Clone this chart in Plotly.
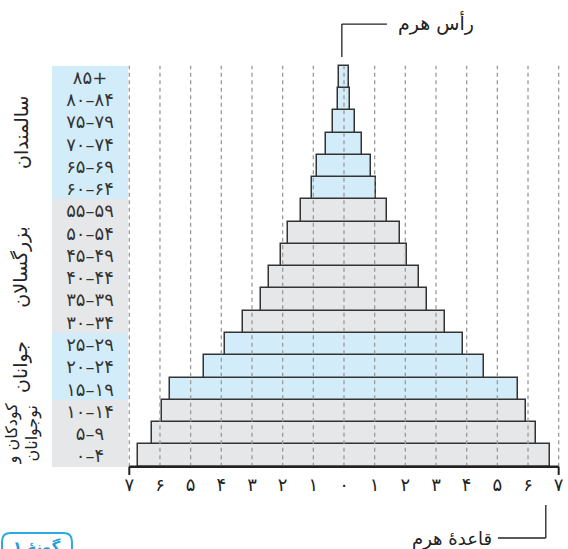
import plotly.graph_objects as go

# ---- data (bottom row first) ----
age_labels = ["۰–۴", "۵–۹", "۱۰–۱۴", "۱۵–۱۹", "۲۰–۲۴", "۲۵–۲۹", "۳۰–۳۴", "۳۵–۳۹",
              "۴۰–۴۴", "۴۵–۴۹", "۵۰–۵۴", "۵۵–۵۹", "۶۰–۶۴", "۶۵–۶۹", "۷۰–۷۴",
              "۷۵–۷۹", "۸۰–۸۴", "۸۵+"]
half_widths = [6.72, 6.26, 5.92, 5.66, 4.56, 3.87, 3.28, 2.70, 2.46, 2.06,
               1.82, 1.41, 1.03, 0.88, 0.60, 0.36, 0.21, 0.15]
row_group = ["child", "child", "child", "young", "young", "young",
             "adult", "adult", "adult", "adult", "adult", "adult",
             "old", "old", "old", "old", "old", "old"]
tick_values = list(range(-7, 8))
tick_labels = ["۷", "۶", "۵", "۴", "۳", "۲", "۱", "۰", "۱", "۲", "۳", "۴", "۵", "۶", "۷"]
group_names = ["کودکان و<br>نوجوانان", "جوانان", "بزرگسالان", "سالمندان"]
group_rows = [(0, 2), (3, 5), (6, 11), (12, 17)]
group_sizes = [16, 19, 19, 19]
group_x = [-10.5, -10.55, -10.55, -10.55]

BLUE = "#d2edf9"
GRAY = "#e6e7e8"
FONT = "DejaVu Sans"
color_of = {"child": GRAY, "young": BLUE, "adult": GRAY, "old": BLUE}
colors = [color_of[g] for g in row_group]
rows = list(range(len(age_labels)))

fig = go.Figure()

# label column
COL_LEFT, COL_W = -9.52, 2.49
fig.add_trace(go.Bar(
    orientation="h", y=rows, x=[COL_W] * len(rows), base=[COL_LEFT] * len(rows),
    width=1, marker=dict(color=colors, line=dict(width=0)),
    text=age_labels, textposition="inside", insidetextanchor="middle",
    constraintext="none", textangle=0,
    textfont=dict(family=FONT, size=18, color="#333333"),
    hoverinfo="skip", showlegend=False))

# pyramid bars (symmetric)
fig.add_trace(go.Bar(
    orientation="h", y=rows, x=[2 * h for h in half_widths],
    base=[-h for h in half_widths], width=1,
    marker=dict(color=colors, line=dict(color="#333333", width=1.5)),
    hoverinfo="skip", showlegend=False))

# tick labels
fig.add_trace(go.Scatter(
    x=tick_values, y=[-1.37] * len(tick_values), mode="text", text=tick_labels,
    textfont=dict(family=FONT, size=18, color="#222222"),
    hoverinfo="skip", showlegend=False, cliponaxis=False))

shapes = []
# dashed grid
for v in tick_values:
    shapes.append(dict(type="line", xref="x", yref="y", x0=v, x1=v, y0=-0.5, y1=17.5,
                       line=dict(color="#9a9a9a", width=1.3, dash="4px,3.5px"), layer="above"))
# baseline
shapes.append(dict(type="line", x0=-7, x1=7, y0=-0.5, y1=-0.5, line=dict(color="#222", width=2.5)))
for v in (-7, 7):
    shapes.append(dict(type="line", x0=v, x1=v, y0=-0.5, y1=-0.87, line=dict(color="#222", width=2)))
# apex callout
shapes.append(dict(type="line", x0=-0.07, x1=-0.07, y0=17.89, y1=19.37, line=dict(color="#222", width=1.3)))
shapes.append(dict(type="line", x0=-0.07, x1=1.40, y0=19.37, y1=19.37, line=dict(color="#222", width=1.3)))
# base callout
shapes.append(dict(type="line", x0=6.58, x1=6.58, y0=-2.22, y1=-3.70, line=dict(color="#222", width=1.3)))
shapes.append(dict(type="line", x0=5.02, x1=6.58, y0=-3.70, y1=-3.70, line=dict(color="#222", width=1.3)))
# bottom-left rounded box
x0b, x1b, ytop, ybot, rx, ry = -11.15, -8.87, -3.48, -4.8, 0.28, 0.38
path = (f"M {x0b+rx},{ytop} L {x1b-rx},{ytop} Q {x1b},{ytop} {x1b},{ytop-ry} "
        f"L {x1b},{ybot} L {x0b},{ybot} L {x0b},{ytop-ry} Q {x0b},{ytop} {x0b+rx},{ytop} Z")
shapes.append(dict(type="path", path=path, line=dict(color="#29abe2", width=2), fillcolor="white"))

annotations = []
for name, (r0, r1), fs, gx in zip(group_names, group_rows, group_sizes, group_x):
    annotations.append(dict(x=gx, y=(r0 + r1) / 2, text=name, textangle=-90, showarrow=False,
                            font=dict(family=FONT, size=fs, color="#222")))
annotations.append(dict(x=1.70, y=19.40, text="رأس هرم", xanchor="left", showarrow=False,
                        font=dict(family=FONT, size=19, color="#222")))
annotations.append(dict(x=4.90, y=-3.76, text="قاعدهٔ هرم", xanchor="right", showarrow=False,
                        font=dict(family=FONT, size=18, color="#222")))
annotations.append(dict(x=-10.0, y=-4.10, text="<b>گونهٔ ۱</b>", showarrow=False,
                        font=dict(family=FONT, size=15, color="#1ba1dc")))

fig.update_layout(
    width=568, height=549, margin=dict(l=0, r=0, t=0, b=0),
    paper_bgcolor="white", plot_bgcolor="white", barmode="overlay", bargap=0,
    xaxis=dict(range=[-11.216, 7.304], visible=False, fixedrange=True),
    yaxis=dict(range=[-4.194, 20.449], visible=False, fixedrange=True),
    shapes=shapes, annotations=annotations, showlegend=False)

fig.write_html("out.html", config={"displayModeBar": False},
               post_script="document.body.style.margin='0';document.body.style.overflow='hidden';")
